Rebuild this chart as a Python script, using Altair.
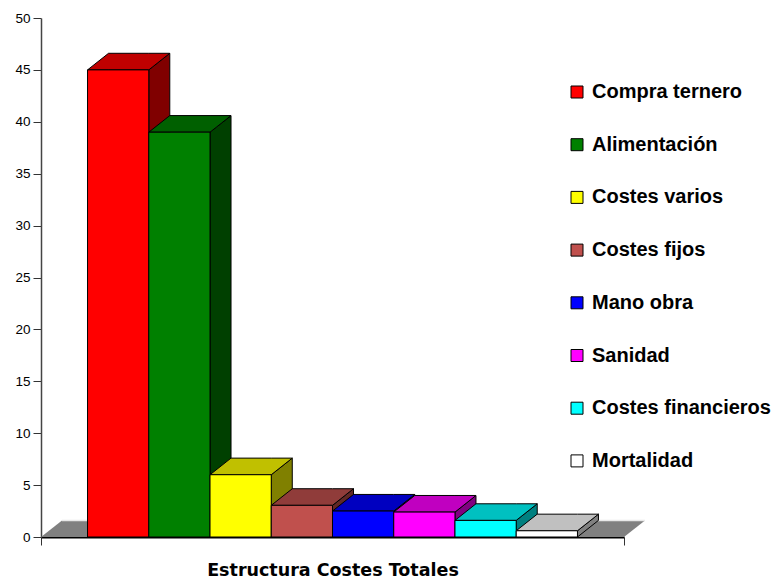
import altair as alt
import pandas as pd

cats = ["Compra ternero", "Alimentación", "Costes varios", "Costes fijos",
        "Mano obra", "Sanidad", "Costes financieros", "Mortalidad"]
values = [45.0, 39.0, 6.0, 3.05, 2.5, 2.4, 1.6, 0.6]
front_colors = ["#FF0000", "#008000", "#FFFF00", "#C0504D",
                "#0000FF", "#FF00FF", "#00FFFF", "#FFFFFF"]
top_colors = ["#C00000", "#006000", "#C0C000", "#903C3A",
              "#0000C0", "#C000C0", "#00C0C0", "#C0C0C0"]
side_colors = ["#800000", "#004000", "#808000", "#602826",
               "#000080", "#800080", "#008080", "#808080"]
y_ticks = list(range(0, 51, 5))
x_title = "Estructura Costes Totales"

# 3D geometry (style constants)
GAP = 0.76          # space before first bar / after last bar, in bar widths
END = len(cats) + 2 * GAP
DX = 0.343          # depth offset in x units
DY = 1.6            # depth offset in y units

front_rows, top_rows, side_rows = [], [], []
for i, (c, v) in enumerate(zip(cats, values)):
    x0 = GAP + i
    x1 = x0 + 1
    front_rows.append({"cat": c, "x": x0, "x2": x1, "y": v, "y2": 0.0})
    for (px, pt, pb) in [(x0, v, v), (x0 + DX, v + DY, v),
                         (x1, v + DY, v), (x1 + DX, v + DY, v + DY)]:
        top_rows.append({"g": i, "x": px, "y": pt, "y2": pb, "col": top_colors[i]})
    for (px, pt, pb) in [(x1, v, 0.0), (x1 + DX, v + DY, DY)]:
        side_rows.append({"g": i, "x": px, "y": pt, "y2": pb, "col": side_colors[i]})

floor_rows = [{"x": px, "y": pt, "y2": pb} for (px, pt, pb) in
              [(0.0, 0.0, 0.0), (DX, DY, 0.0), (END, DY, 0.0), (END + DX, DY, DY)]]
edge_rows = [{"x": DX, "x2": END + DX, "y": DY}]

front_df = pd.DataFrame(front_rows)
top_df = pd.DataFrame(top_rows)
side_df = pd.DataFrame(side_rows)
floor_df = pd.DataFrame(floor_rows)
edge_df = pd.DataFrame(edge_rows)

xs = alt.Scale(domain=[0, END], nice=False, zero=False)
ys = alt.Scale(domain=[0, 50], nice=False)

x_axis = alt.Axis(values=[0, END], labels=False, tickSize=8, tickColor="#333333",
                  domainColor="#000000", domainWidth=2, grid=False,
                  title=x_title, titleFont="DejaVu Sans", titleFontSize=17.5,
                  titleFontWeight="bold", titleColor="#000000", titlePadding=16)
y_axis = alt.Axis(values=y_ticks, tickSize=8, tickColor="#333333", tickWidth=1,
                  domainColor="#444444", domainWidth=1.5, grid=False, title=None,
                  labelFont="Liberation Sans", labelFontSize=13.5,
                  labelFontWeight="normal", labelColor="#000000", labelPadding=3)

X = alt.X("x:Q", scale=xs, axis=x_axis)
Y = alt.Y("y:Q", scale=ys, axis=y_axis, stack=None)

floor = alt.Chart(floor_df).mark_area(color="#808080", interpolate="linear",
                                      orient="vertical").encode(
    x=X, y=Y, y2="y2:Q")
edge = alt.Chart(edge_df).mark_rule(color="#E8E8E8", strokeWidth=1.5).encode(
    x=X, x2="x2:Q", y=Y)
sides = alt.Chart(side_df).mark_area(stroke="#000000", strokeWidth=1,
                                     interpolate="linear", orient="vertical").encode(
    x=X, y=Y, y2="y2:Q", detail="g:N", fill=alt.Fill("col:N", scale=None))
tops = alt.Chart(top_df).mark_area(stroke="#000000", strokeWidth=1,
                                   interpolate="linear", orient="vertical").encode(
    x=X, y=Y, y2="y2:Q", detail="g:N", fill=alt.Fill("col:N", scale=None))
fronts = alt.Chart(front_df).mark_rect(stroke="#000000", strokeWidth=1).encode(
    x=X, x2="x2:Q", y=Y, y2="y2:Q",
    fill=alt.Fill("cat:N", sort=cats,
                  scale=alt.Scale(domain=cats, range=front_colors),
                  legend=alt.Legend(title=None, orient="none", legendX=526, legendY=64,
                                    symbolType="square", symbolSize=144,
                                    symbolStrokeColor="#000000", symbolStrokeWidth=1,
                                    labelFont="Liberation Sans", labelFontSize=20,
                                    labelFontWeight="bold", labelColor="#000000",
                                    labelLimit=400, rowPadding=32.7, labelOffset=5,
                                    padding=0)))

chart = alt.layer(floor, edge, sides, tops, fronts).properties(
    width=583, height=519,
    autosize=alt.AutoSizeParams(type="none"),
    padding={"left": 33, "top": 10, "right": 150, "bottom": 42},
).configure_view(stroke=None)

chart.save("out.html", embed_options={"renderer": "svg", "actions": False})
